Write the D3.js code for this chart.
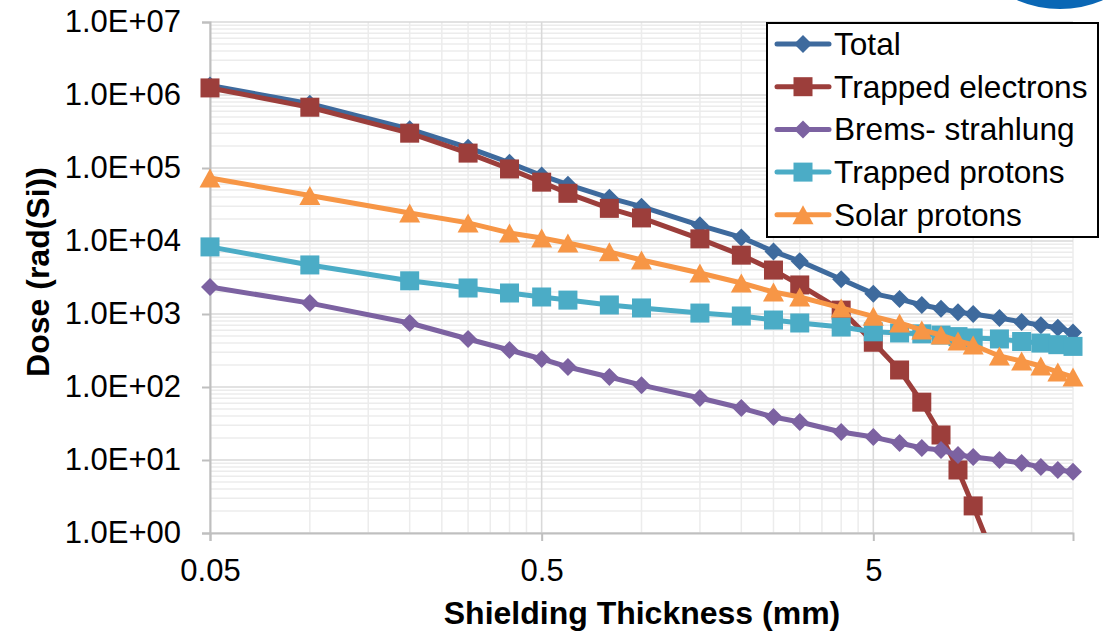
<!DOCTYPE html>
<html>
<head>
<meta charset="utf-8">
<script src="https://cdn.jsdelivr.net/npm/d3@7/dist/d3.min.js"></script>
<style>
  html, body { margin: 0; padding: 0; background: #ffffff; }
  svg { display: block; font-family: "Liberation Sans", Arial, sans-serif; }
</style>
</head>
<body>
<svg id="chart" width="1115" height="634"></svg>
<script>
// ---------------- data ----------------
const thickness = [0.05, 0.1, 0.2, 0.3, 0.4, 0.5, 0.6, 0.8, 1, 1.5, 2, 2.5, 3, 4, 5, 6, 7, 8, 9, 10, 12, 14, 16, 18, 20];

const totalDose = [1.35e6, 7.6e5, 3.4e5, 1.9e5, 1.18e5, 7.9e4, 5.9e4, 3.9e4, 2.95e4, 1.64e4, 1.12e4, 7.2e3, 5.3e3, 3.0e3, 1.9e3, 1.6e3, 1.33e3, 1.18e3, 1.06e3, 1.0e3, 880, 780, 700, 650, 560];
const trappedElectrons = [1.25e6, 6.8e5, 3.0e5, 1.6e5, 9.7e4, 6.4e4, 4.5e4, 2.8e4, 2.07e4, 1.07e4, 6.4e3, 4.0e3, 2.5e3, 1.13e3, 410, 171, 62, 22, 7.3, 2.35, 0.3, null, null, null, null];
const bremsstrahlung = [2.34e3, 1.41e3, 753, 455, 321, 242, 188, 137, 106, 70.7, 51.5, 38.8, 33.2, 24.2, 20.6, 17.1, 14.6, 13.7, 11.7, 11.0, 10.0, 9.1, 8.0, 7.3, 6.9];
const trappedProtons = [8.3e3, 4.7e3, 2.85e3, 2.27e3, 1.94e3, 1.71e3, 1.55e3, 1.33e3, 1.21e3, 1.03e3, 939, 827, 753, 663, 570, 550, 535, 515, 490, 470, 455, 420, 400, 380, 360];
const solarProtons = [7.3e4, 4.2e4, 2.42e4, 1.77e4, 1.29e4, 1.1e4, 9.4e3, 7.1e3, 5.5e3, 3.65e3, 2.66e3, 2.0e3, 1.71e3, 1.21e3, 930, 753, 604, 515, 427, 376, 266, 227, 194, 160, 137];

const seriesNames = ["Total", "Trapped electrons", "Brems- strahlung", "Trapped protons", "Solar protons"];
const seriesValues = [totalDose, trappedElectrons, bremsstrahlung, trappedProtons, solarProtons];
const seriesColors = ["#3e6a9d", "#9c3e3b", "#7c62a1", "#4bacc6", "#f79646"];
const seriesMarkers = ["diamond", "square", "diamond", "square", "triangle"];

const xTickValues = [0.05, 0.5, 5];
const xTickLabels = ["0.05", "0.5", "5"];
const yTickValues = [1, 10, 100, 1e3, 1e4, 1e5, 1e6, 1e7];
const yTickLabels = ["1.0E+00", "1.0E+01", "1.0E+02", "1.0E+03", "1.0E+04", "1.0E+05", "1.0E+06", "1.0E+07"];

const xTitle = "Shielding Thickness (mm)";
const yTitle = "Dose (rad(Si))";

// ---------------- layout ----------------
const plot = { left: 210, right: 1073, top: 22, bottom: 533 };

const svg = d3.select("#chart");

// partial blue logo at top right
svg.append("circle").attr("cx", 1060).attr("cy", -100).attr("r", 109).attr("fill", "#0a67b5");

const x = d3.scaleLog().domain([0.05, 20]).range([plot.left, plot.right]);
const y = d3.scaleLog().domain([1, 1e7]).range([plot.bottom, plot.top]);

// ---------------- gridlines ----------------
const grid = svg.append("g");
const yMinor = [];
for (let e = 0; e < 7; e++) for (let k = 2; k <= 9; k++) yMinor.push(k * Math.pow(10, e));
grid.selectAll("line.ymin").data(yMinor).join("line")
  .attr("x1", plot.left).attr("x2", plot.right)
  .attr("y1", d => y(d)).attr("y2", d => y(d))
  .attr("stroke", "#ececec").attr("stroke-width", 1.5);
const xMinor = [];
[0.05, 0.5, 5].forEach(b => { for (let k = 2; k <= 9; k++) { const v = +(b * k).toFixed(4); if (v <= 20.0001) xMinor.push(v); } });
grid.selectAll("line.xmin").data(xMinor).join("line")
  .attr("y1", plot.top).attr("y2", plot.bottom)
  .attr("x1", d => x(d)).attr("x2", d => x(d))
  .attr("stroke", "#ececec").attr("stroke-width", 1.5);
grid.selectAll("line.ymaj").data(yTickValues).join("line")
  .attr("x1", plot.left).attr("x2", plot.right)
  .attr("y1", d => y(d)).attr("y2", d => y(d))
  .attr("stroke", "#d9d9d9").attr("stroke-width", 1.6);
grid.selectAll("line.xmaj").data(xTickValues).join("line")
  .attr("y1", plot.top).attr("y2", plot.bottom)
  .attr("x1", d => x(d)).attr("x2", d => x(d))
  .attr("stroke", "#d9d9d9").attr("stroke-width", 1.6);

// ---------------- axes ----------------
const yAxis = svg.append("g").attr("transform", `translate(${plot.left},0)`)
  .call(d3.axisLeft(y).tickValues(yTickValues).tickFormat((d, i) => yTickLabels[i]).tickSize(8).tickPadding(21));
const xAxis = svg.append("g").attr("transform", `translate(0,${plot.bottom})`)
  .call(d3.axisBottom(x).tickValues(xTickValues).tickFormat((d, i) => xTickLabels[i]).tickSize(8).tickPadding(18));
[yAxis, xAxis].forEach(g => {
  g.select(".domain").attr("stroke", "#bfbfbf").attr("stroke-width", 2);
  g.selectAll(".tick line").attr("stroke", "#bfbfbf").attr("stroke-width", 2);
  g.selectAll(".tick text").attr("font-size", 31).attr("fill", "#000")
    .attr("font-family", "'Liberation Sans', Arial, sans-serif");
});

// axis titles
svg.append("text").attr("x", 642).attr("y", 624).attr("text-anchor", "middle")
  .attr("font-size", 32).attr("font-weight", "bold").attr("fill", "#000").text(xTitle);
svg.append("text").attr("transform", "translate(49,272) rotate(-90)").attr("text-anchor", "middle")
  .attr("font-size", 32).attr("font-weight", "bold").attr("fill", "#000").text(yTitle);

// ---------------- series ----------------
svg.append("defs").append("clipPath").attr("id", "plotClip")
  .append("rect").attr("x", plot.left - 15).attr("y", plot.top - 15)
  .attr("width", plot.right - plot.left + 30).attr("height", plot.bottom - plot.top + 15);

function drawMarker(g, kind, color, cx, cy) {
  if (kind === "diamond") {
    const r = 9;
    g.append("path").attr("d", `M${cx},${cy - r}L${cx + r},${cy}L${cx},${cy + r}L${cx - r},${cy}Z`).attr("fill", color);
  } else if (kind === "square") {
    const h = 9.5;
    g.append("rect").attr("x", cx - h).attr("y", cy - h).attr("width", 2 * h).attr("height", 2 * h).attr("fill", color);
  } else {
    const w = 10.5, hgt = 19;
    g.append("path").attr("d", `M${cx},${cy - hgt / 2}L${cx + w},${cy + hgt / 2}L${cx - w},${cy + hgt / 2}Z`).attr("fill", color);
  }
}

const lineGen = d3.line()
  .defined(d => d.v !== null)
  .x(d => x(d.t))
  .y(d => y(d.v));

const seriesLayer = svg.append("g").attr("clip-path", "url(#plotClip)");
seriesValues.forEach((vals, si) => {
  const pts = thickness.map((t, i) => ({ t, v: vals[i] }));
  const g = seriesLayer.append("g");
  g.append("path").datum(pts).attr("d", lineGen)
    .attr("fill", "none").attr("stroke", seriesColors[si]).attr("stroke-width", 5)
    .attr("stroke-linejoin", "round");
  pts.filter(p => p.v !== null && p.v >= 1).forEach(p => {
    drawMarker(g, seriesMarkers[si], seriesColors[si], x(p.t), y(p.v));
  });
});

// ---------------- legend ----------------
const legend = svg.append("g");
legend.append("rect").attr("x", 767).attr("y", 23).attr("width", 331).attr("height", 214)
  .attr("fill", "#fff").attr("stroke", "#000").attr("stroke-width", 2);
seriesNames.forEach((name, i) => {
  const ry = 44 + i * 42.7;
  legend.append("line").attr("x1", 777).attr("x2", 829).attr("y1", ry).attr("y2", ry)
    .attr("stroke", seriesColors[i]).attr("stroke-width", 5).attr("stroke-linecap", "round");
  drawMarker(legend, seriesMarkers[i], seriesColors[i], 803, ry);
  legend.append("text").attr("x", 834).attr("y", ry + 11).attr("font-size", 31.6).attr("fill", "#000").text(name);
});
</script>
</body>
</html>
